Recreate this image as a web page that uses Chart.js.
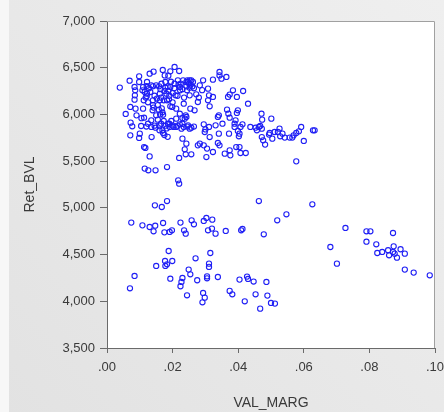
<!DOCTYPE html>
<html>
<head>
<meta charset="utf-8">
<script src="https://cdn.jsdelivr.net/npm/chart.js@4"></script>
<style>
html,body{margin:0;padding:0;background:#e8e8e8;}
canvas{display:block;}
</style>
</head>
<body>
<canvas id="c" width="444" height="412"></canvas>
<script>
// VAL_MARG values (x)
const valMarg = [
0.0039,0.0069,0.0057,0.0071,0.0072,0.0071,0.0077,0.0084,0.0086,0.0084,0.0085,0.0087,0.0090,0.0098,0.0098,0.0100,0.0098,0.0104,0.0108,0.0110,
0.0112,0.0110,0.0113,0.0113,0.0117,0.0115,0.0126,0.0130,0.0122,0.0122,0.0121,0.0121,0.0132,0.0130,0.0142,0.0135,0.0140,0.0140,0.0139,0.0135,
0.0135,0.0136,0.0142,0.0150,0.0148,0.0150,0.0148,0.0155,0.0159,0.0161,0.0161,0.0166,0.0167,0.0170,0.0173,0.0169,0.0171,0.0173,0.0169,0.0171,
0.0176,0.0178,0.0178,0.0181,0.0183,0.0183,0.0187,0.0187,0.0189,0.0186,0.0191,0.0193,0.0193,0.0193,0.0196,0.0199,0.0206,0.0203,0.0206,0.0209,
0.0211,0.0211,0.0211,0.0216,0.0220,0.0222,0.0223,0.0222,0.0222,0.0227,0.0220,0.0217,0.0220,0.0230,0.0232,0.0234,0.0237,0.0234,0.0237,0.0242,
0.0242,0.0245,0.0244,0.0247,0.0252,0.0252,0.0252,0.0257,0.0262,0.0254,0.0242,0.0247,0.0252,0.0257,0.0240,0.0257,0.0242,0.0267,0.0272,0.0277,
0.0283,0.0280,0.0293,0.0295,0.0298,0.0283,0.0277,0.0295,0.0303,0.0305,0.0308,0.0311,0.0308,0.0313,0.0313,0.0311,0.0323,0.0323,0.0323,0.0331,
0.0338,0.0341,0.0343,0.0341,0.0343,0.0349,0.0338,0.0343,0.0352,0.0364,0.0359,0.0366,0.0369,0.0374,0.0370,0.0374,0.0372,0.0376,0.0374,0.0384,
0.0389,0.0389,0.0396,0.0392,0.0396,0.0399,0.0399,0.0402,0.0404,0.0407,0.0394,0.0404,0.0407,0.0413,0.0415,0.0423,0.0430,0.0437,0.0453,0.0457,
0.0463,0.0467,0.0471,0.0473,0.0472,0.0476,0.0482,0.0472,0.0494,0.0496,0.0501,0.0504,0.0511,0.0521,0.0526,0.0528,0.0535,0.0542,0.0557,0.0565,
0.0569,0.0577,0.0585,0.0592,0.0600,0.0577,0.0628,0.0633,
0.0115,0.0118,0.0125,0.0128,0.0145,0.0152,0.0155,0.0158,0.0162,0.0165,0.0163,0.0175,0.0185,0.0190,0.0195,0.0200,0.0205,0.0215,0.0218,0.0225,
0.0230,0.0250,0.0255,0.0260,0.0265,0.0120,0.0125,0.0145,0.0160,0.0165,0.0178,0.0182,0.0190,0.0200,0.0215,0.0230,0.0245,0.0265,0.0105,0.0160,
0.0175,0.0185,0.0140,0.0200,0.0235,0.0290,0.0300,0.0230,0.0240,
0.0070,0.0074,0.0084,0.0108,0.0130,0.0142,0.0147,0.0150,0.0146,0.0167,0.0171,0.0175,0.0177,0.0178,0.0183,0.0183,0.0188,0.0191,0.0193,0.0198,
0.0199,0.0224,0.0235,0.0240,0.0230,0.0227,0.0224,0.0244,0.0249,0.0254,0.0258,0.0265,0.0270,0.0275,0.0295,0.0303,0.0308,0.0305,0.0305,0.0311,
0.0311,0.0315,0.0321,0.0320,0.0331,0.0293,0.0291,0.0298,0.0338,0.0362,0.0374,0.0382,0.0404,0.0409,0.0413,0.0420,0.0427,0.0430,0.0447,0.0453,
0.0463,0.0467,0.0478,0.0486,0.0489,0.0500,0.0512,0.0519,0.0547,0.0626,0.0681,0.0701,0.0727,0.0791,0.0803,0.0791,0.0821,0.0824,0.0839,0.0857,
0.0860,0.0872,0.0874,0.0872,0.0877,0.0884,0.0895,0.0908,0.0908,0.0935,0.0984
];
// Ret_BVL values (y)
const retBVL = [
6287,6361,6005,6080,5912,5776,5873,6294,6258,6158,6204,6062,5990,6408,6347,5794,5748,5876,6258,6294,
6151,6062,5965,5651,5641,5420,5402,5551,6222,6347,6304,6194,6240,6436,6458,6311,6301,6151,6044,5937,
5866,5758,6073,6311,5858,5990,5402,5944,6301,6222,6151,6329,6065,6476,6151,6023,5997,5930,5830,5801,
6418,6347,6286,6222,6151,5437,6415,6251,6162,5901,5866,6461,6294,6087,5930,6080,6508,5866,6329,6204,
6062,5955,5866,6365,6465,6294,6258,6008,5894,5848,5534,5295,5259,5741,6365,6115,5955,5866,5627,6347,
6301,6365,6258,6347,6365,6286,6204,6365,6347,6062,5973,5883,5848,5858,5573,5573,5687,6044,6215,6133,
6311,6180,6365,5894,5812,5687,5669,5669,5544,5634,6276,6204,6151,6087,5758,5866,6372,6187,5598,5883,
5973,5990,6454,5794,6418,6383,5694,5669,5901,6401,5580,6051,6187,6212,6008,5965,5794,5562,5616,6258,
5866,5901,6187,5937,6016,6044,5823,5766,5794,5866,5651,5651,5587,5894,6251,5587,6115,5866,5858,5830,
5866,5876,6008,5944,5758,5723,5677,5848,5784,5801,5955,5741,5812,5812,5848,5766,5794,5752,5752,5752,
5776,5801,5819,5866,5716,5498,5830,5830,
6240,6180,6130,6280,6200,6170,6100,6050,6000,6180,6270,6250,6300,6200,6350,6230,6280,6200,6320,6330,
6270,6330,6320,6300,6280,5870,5900,5880,5880,5900,5880,5850,5900,5880,5880,5900,5870,5870,5960,5830,
5780,5760,6100,6130,6180,6260,5840,5960,5990,
4139,4842,4271,4813,4795,4749,4809,4378,5027,5009,4838,4738,4431,4378,5073,4396,4538,4742,4242,4760,
4431,4842,4760,4724,4249,4207,4161,4064,4339,4289,4867,4824,4460,4225,4860,4892,4760,4267,4246,4403,
4368,4517,4874,4778,4724,4089,3989,4039,4260,4753,4111,4075,4232,4760,4774,4000,4264,4239,4211,4075,
5073,3921,4717,4207,4061,3982,3975,4867,4931,5038,4581,4403,4785,4749,4749,4638,4610,4517,4528,4546,
4492,4731,4588,4528,4510,4467,4557,4510,4339,4307,4278
];
const xTickLabels = ['.00', '.02', '.04', '.06', '.08', '.10'];
const yTickLabels = ['3,500', '4,000', '4,500', '5,000', '5,500', '6,000', '6,500', '7,000'];
const xTitle = 'VAL_MARG';
const yTitle = 'Ret_BVL';

const points = valMarg.map((x, i) => ({x: x, y: retBVL[i]}));

const bgPlugin = {
  id: 'bg',
  beforeDraw(chart) {
    const {ctx, chartArea: a, width, height} = chart;
    ctx.save();
    const g = ctx.createLinearGradient(0, height, width, 0);
    g.addColorStop(0, '#e2e2e2');
    g.addColorStop(1, '#efefef');
    ctx.fillStyle = g;
    ctx.fillRect(0, 0, width, height);
    ctx.fillStyle = '#f7f7f7';
    ctx.fillRect(0, 0, 9, height);
    ctx.fillStyle = '#ffffff';
    ctx.fillRect(a.left, a.top, a.right - a.left, a.bottom - a.top);
    ctx.restore();
  },
  afterDatasetsDraw(chart) {
    const {ctx, chartArea: a} = chart;
    ctx.save();
    ctx.strokeStyle = '#a0a0a0';
    ctx.lineWidth = 1;
    ctx.beginPath();
    ctx.moveTo(a.left, a.top + 0.5);
    ctx.lineTo(a.right - 0.5, a.top + 0.5);
    ctx.lineTo(a.right - 0.5, a.bottom);
    ctx.stroke();
    ctx.restore();
  }
};

new Chart(document.getElementById('c'), {
  type: 'scatter',
  data: {
    datasets: [{
      data: points,
      pointStyle: 'circle',
      pointRadius: 2.6,
      pointBorderWidth: 1.1,
      pointBorderColor: '#1f1ff5',
      pointBackgroundColor: 'rgba(0,0,0,0)',
      pointHoverRadius: 2.6
    }]
  },
  options: {
    responsive: false,
    animation: false,
    events: [],
    layout: {padding: {left: 0, right: 9, top: 21, bottom: 0}},
    plugins: {legend: {display: false}, tooltip: {enabled: false}},
    scales: {
      x: {
        type: 'linear',
        min: 0, max: 0.10,
        border: {display: true, color: '#6a6a6a', width: 1},
        grid: {drawOnChartArea: false, drawTicks: true, tickLength: 5, color: '#6a6a6a'},
        ticks: {
          stepSize: 0.02, autoSkip: false, maxRotation: 0, padding: 7,
          color: '#3a3a3a', font: {family: '"Liberation Sans", Arial, sans-serif', size: 13},
          callback: (v, i) => xTickLabels[i]
        },
        title: {display: true, text: xTitle, color: '#3a3a3a',
          font: {family: '"Liberation Sans", Arial, sans-serif', size: 14},
          padding: {top: 0, bottom: 0}},
        afterFit: (s) => { s.height = 64; s.paddingLeft = 0; s.paddingRight = 0; }
      },
      y: {
        type: 'linear',
        min: 3500, max: 7000,
        border: {display: true, color: '#6a6a6a', width: 1},
        grid: {drawOnChartArea: false, drawTicks: true, tickLength: 7, color: '#6a6a6a'},
        ticks: {
          stepSize: 500, autoSkip: false, padding: 5,
          color: '#3a3a3a', font: {family: '"Liberation Sans", Arial, sans-serif', size: 13},
          callback: (v, i) => yTickLabels[i]
        },
        title: {display: true, text: yTitle, color: '#3a3a3a',
          font: {family: '"Liberation Sans", Arial, sans-serif', size: 14},
          padding: {top: 21.6, bottom: 0}},
        afterFit: (s) => { s.width = 107; s.paddingTop = 0; s.paddingBottom = 0; }
      }
    }
  },
  plugins: [bgPlugin]
});
</script>
</body>
</html>
